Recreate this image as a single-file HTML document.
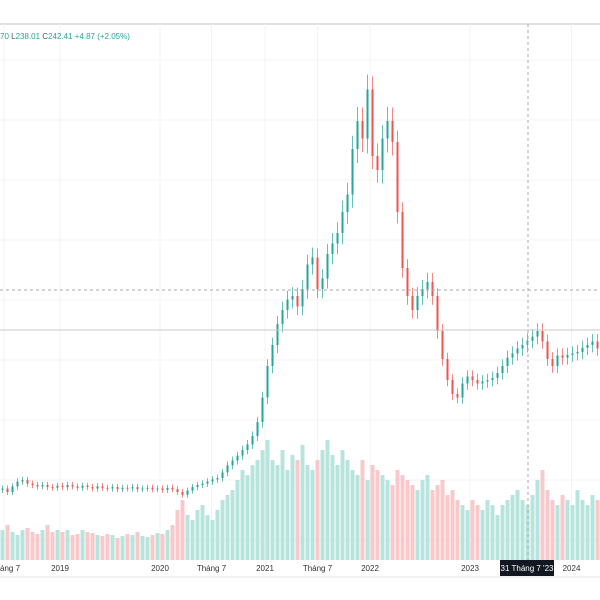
<!DOCTYPE html>
<html><head><meta charset="utf-8">
<style>
html,body{margin:0;padding:0;background:#fff;}
#wrap{position:relative;width:600px;height:600px;overflow:hidden;font-family:"Liberation Sans","Noto Sans CJK SC",sans-serif;}
svg text{font-family:"Liberation Sans","Noto Sans CJK SC",sans-serif;}
</style></head>
<body>
<div id="wrap">
<svg id="chart" width="600" height="600">
  <rect x="0" y="0" width="600" height="600" fill="#fff"/>
  <line x1="0" y1="24" x2="600" y2="24" stroke="#d6d6d6" stroke-width="1.5"/>
  <g id="grid"></g>
  <g id="vol"></g>
  <g id="candles"></g>
  <line x1="0" y1="330" x2="600" y2="330" stroke="#c8c8c8" stroke-width="1"/>
  <line x1="0" y1="290" x2="600" y2="290" stroke="#aaa" stroke-width="1" stroke-dasharray="3,3"/>
  <line x1="528" y1="24" x2="528" y2="561" stroke="#aaa" stroke-width="1" stroke-dasharray="3,3"/>
  <line x1="0" y1="577" x2="600" y2="577" stroke="#e6e6e6" stroke-width="1"/>
  <g id="xaxis"></g>
  <rect x="500" y="560" width="54" height="16" fill="#131722"/>
  <text x="527" y="571" font-size="8" fill="#fff" text-anchor="middle">31 Tháng 7 '23</text>
  <text x="0" y="39" font-size="8"><tspan fill="#26a69a">70 </tspan><tspan fill="#555">L</tspan><tspan fill="#26a69a">238.01 </tspan><tspan fill="#555">C</tspan><tspan fill="#26a69a">242.41 +4.87 (+2.05%)</tspan></text>
</svg>
</div>
<script>
const closes = [45,40,48,55,57,52,50,48,50,47,46,49,
47,50,48,46,49,47,45,48,46,45,47,44,46,45,47,44,45,46,44,45,
43,46,44,40,36,42,47,50,52,55,58,60,
68,78,85,92,100,108,120,140,175,
220,250,280,300,315,320,305,330,365,375,330,345,
380,395,410,440,465,530,570,545,615,520,500,545,570,540,
440,360,320,300,320,330,340,320,270,230,200,180,175,
195,205,200,195,198,200,203,210,220,232,238,245,250,256,262,270,255,230,220,235,
232,236,238,240,246,250,255,245];
const volumes = [30,35,28,25,30,32,28,26,30,35,28,30,
28,30,25,26,30,28,27,25,24,26,25,22,24,26,25,28,24,23,25,27,
26,30,35,50,60,45,40,50,55,45,40,50,
60,65,70,80,90,85,95,100,110,
120,100,95,110,90,105,100,115,95,90,100,110,
120,105,95,110,100,90,85,100,80,95,90,85,80,75,
90,85,80,75,70,80,85,70,75,80,65,70,60,
55,50,60,55,50,60,55,45,55,60,65,70,60,55,65,80,90,70,60,55,
65,60,55,70,60,55,65,60];
const tickLabels = ['áng 7','2019','2020','Tháng 7','2021','Tháng 7','2022','2023','2024'];
const tickIndex = [0.3,11.5,31.5,41.8,52.5,63,73.5,93.5,113.8];

const NS='http://www.w3.org/2000/svg';
const step=5;
function xAt(i){return i*step+2.5;}
function yPrice(p){return 520-0.7*p;}
function yVol(v){return 560-v*1.0;}
function mk(tag,attrs,parent){const e=document.createElementNS(NS,tag);for(const k in attrs)e.setAttribute(k,attrs[k]);parent.appendChild(e);return e;}

const grid=document.getElementById('grid');
for(let k=0;k<9;k++){
  const gl=mk('line',{x1:0,x2:600,y1:60+k*60,y2:60+k*60,stroke:'#f3f3f3','stroke-width':1},grid);
  
  
}
const xa=document.getElementById('xaxis');
tickLabels.forEach((t,j)=>{
  const x=xAt(tickIndex[j]);
  const gl=mk('line',{x1:x,x2:x,y1:24,y2:561,stroke:'#f3f3f3','stroke-width':1},grid);
  
  
  const tx=mk('text',{x:j===0?0:x,y:571,'font-size':8,fill:'#333','text-anchor':j===0?'start':'middle'},xa);
  tx.textContent=t;
  
  
});

const vg=document.getElementById('vol'), cg=document.getElementById('candles');
closes.forEach((c,i)=>{
  const o=i>0?closes[i-1]:c-2;
  const up=c>=o;
  const x=xAt(i);
  const v=volumes[i];
  const vb=mk('rect',{x:x-2,y:yVol(v),width:4,height:560-yVol(v),fill:up?'#b7e4dc':'#f8c8ca'},vg);
  
  
  const hi=Math.max(o,c)+3+0.03*c, lo=Math.min(o,c)-3-0.03*c;
  const col=up?'#26a69a':'#ef5350';
  const w=mk('line',{x1:x,x2:x,y1:yPrice(hi),y2:yPrice(lo),stroke:col,'stroke-width':0.7},cg);
  
  
  const top=yPrice(Math.max(o,c)), bot=yPrice(Math.min(o,c));
  const b=mk('rect',{x:x-1,y:top,width:2,height:Math.max(1,bot-top),fill:col},cg);
  
  
});
</script>
</body></html>
